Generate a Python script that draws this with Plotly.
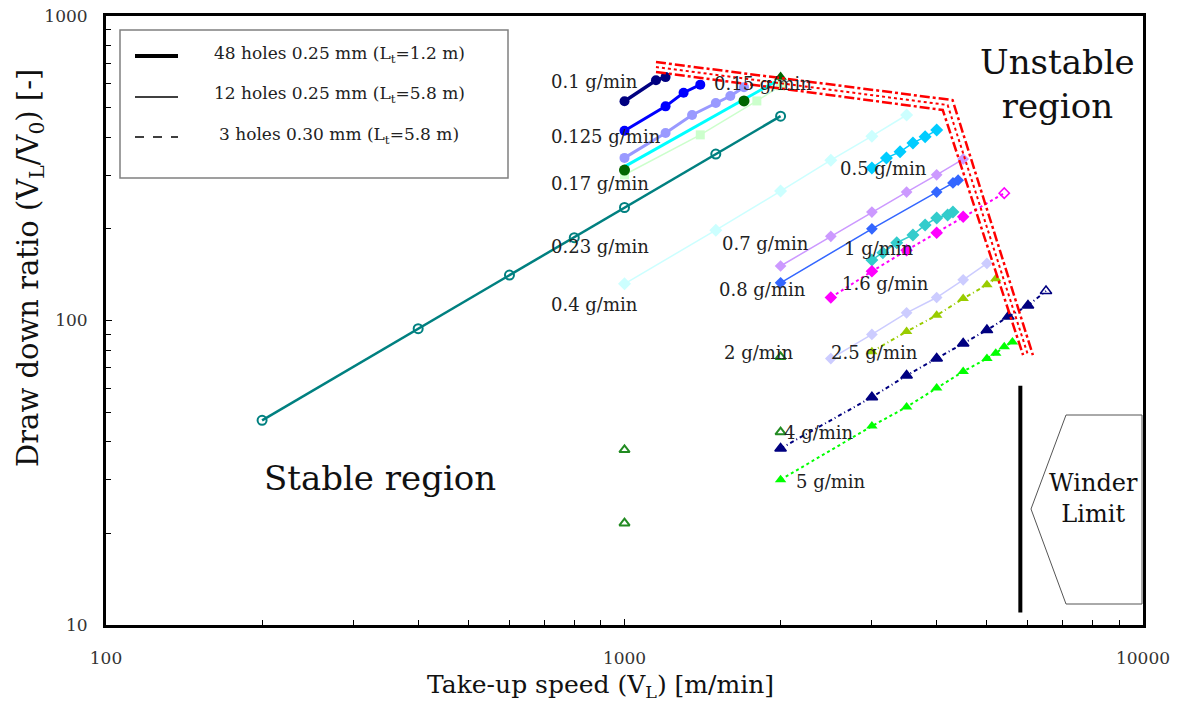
import plotly.graph_objects as go

# ---------------- data ----------------
# 48 holes 0.25 mm (Lt = 1.2 m) - thick lines
q010_x = [1000, 1150, 1200]
q010_y = [525, 615, 630]
q0125_x = [1000, 1200, 1300, 1400]
q0125_y = [420, 505, 560, 595]
q015_x = [1000, 1200, 1350, 1500, 1600, 1700]
q015_y = [342, 413, 473, 518, 546, 584]
q017_x = [1000, 1950]
q017_y = [320, 607]
q023_x = [200, 400, 600, 800, 1000, 1500, 2000]
q023_y = [47, 94, 141, 187, 235, 352, 469]
dkgreen_x = [1000, 1700]
dkgreen_y = [312, 526]
dkgreen_tri_x = [2000]
dkgreen_tri_y = [630]
palegreen_x = [1000, 1400, 1800, 2000]
palegreen_y = [301, 407, 526, 590]

# 12 holes 0.25 mm (Lt = 5.8 m) - thin lines
q04_x = [1000, 1500, 2000, 2500, 3000, 3500]
q04_y = [132, 198, 266, 336, 403, 473]
q05_x = [3000, 3200, 3400, 3600, 3800, 4000]
q05_y = [317, 342, 358, 383, 401, 422]
q07_x = [2000, 2500, 3000, 3500, 4000, 4500]
q07_y = [151, 189, 227, 264, 301, 339]
q08_x = [2000, 3000, 4000, 4300, 4400]
q08_y = [133, 200, 264, 283, 289]
q1_x = [3000, 3150, 3350, 3600, 3800, 4000, 4200, 4300]
q1_y = [158, 167, 180, 191, 206, 217, 222, 227]
q25_x = [2500, 3000, 3500, 4000, 4500, 5000]
q25_y = [75, 90, 106, 119, 136, 154]

# 3 holes 0.30 mm (Lt = 5.8 m) - dotted lines
q16_x = [2500, 3000, 3500, 4000, 4500, 5400]
q16_y = [119, 145, 170, 194, 219, 262]
q2_x = [3000, 3500, 4000, 4500, 5000, 5200]
q2_y = [79, 92, 104, 118, 131, 137]
q4_x = [2000, 3000, 3500, 4000, 4500, 5000, 5500, 6000, 6500]
q4_y = [38, 56, 66, 75, 84, 93, 103, 112, 125]
q5_x = [2000, 3000, 3500, 4000, 4500, 5000, 5200, 5400, 5600]
q5_y = [30, 45, 52, 60, 68, 75, 78, 82, 85]
open_tri_x = [2000, 2000, 1000, 1000]
open_tri_y = [76, 43, 37.6, 21.6]

# stability boundary and winder limit
boundary_x = [1150, 4200, 6000]
boundary_y = [680, 510, 77]
winder_x = [5800, 5800]
winder_y = [11, 61]

legend_names = ["48 holes 0.25 mm (L<sub>t</sub>=1.2 m)",
                "12 holes 0.25 mm (L<sub>t</sub>=5.8 m)",
                "3 holes 0.30 mm (L<sub>t</sub>=5.8 m)"]

labels = ["0.1 g/min", "0.125 g/min", "0.15 g/min", "0.17 g/min", "0.23 g/min",
          "0.4 g/min", "0.5 g/min", "0.7 g/min", "1 g/min", "0.8 g/min",
          "1.6 g/min", "2 g/min", "2.5 g/min", "4 g/min", "5 g/min"]
# label positions (pixels in the 1180x702 frame: left edge, vertical centre)
label_px = [(549, 82), (549, 136), (712, 84), (549, 183), (549, 246),
            (549, 304), (838, 168), (720, 243), (842, 248), (717, 289),
            (840, 283), (722, 352), (829, 352), (782, 433), (794, 481)]

FONT = "DejaVu Serif"
L, R, T, B = 106, 1143, 16, 625


def px(x):
    return (x - L) / (R - L)


def py(y):
    return (B - y) / (B - T)


fig = go.Figure()


def add(x, y, color, width, symbol, size, dash="solid", mode="lines+markers", mline=0, mcolor=None):
    fig.add_trace(go.Scatter(
        x=x, y=y, mode=mode, showlegend=False,
        line=dict(color=color, width=width, dash=dash),
        marker=dict(symbol=symbol, size=size, color=mcolor or color,
                    line=dict(width=mline, color=color))))


# thin (12 holes)
add(q04_x, q04_y, "#ccffff", 1.5, "diamond", 10)
add(q07_x, q07_y, "#cc99ff", 1.5, "diamond", 9)
add(q08_x, q08_y, "#3366ff", 1.5, "diamond", 9)
add(q1_x, q1_y, "#33cccc", 1.5, "diamond", 10)
add(q05_x, q05_y, "#00ccff", 1.5, "diamond", 10)
add(q25_x, q25_y, "#ccccff", 1.5, "diamond", 9)
add(palegreen_x, palegreen_y, "#ccffcc", 1.5, "square", 9)

# dotted (3 holes)
add(q16_x, q16_y, "#ff00ff", 2, ["diamond"] * 5 + ["diamond-open"], 8, dash="dot", mline=1.5)
add(q2_x, q2_y, "#99cc00", 2, "triangle-up", 10, dash="4px,3px,1px,3px")
add(q4_x, q4_y, "#000080", 2, ["triangle-up"] * 8 + ["triangle-up-open"], 10, dash="4px,3px,1px,3px", mline=1.5)
add(q5_x, q5_y, "#00ff00", 2, "triangle-up", 10, dash="3px,3px")

# thick (48 holes)
add(q023_x, q023_y, "#008080", 2.5, "circle-open", 9, mline=2)
add(q015_x, q015_y, "#9999ff", 3, "circle", 10)
add(q017_x, q017_y, "#00ffff", 3, "circle", 1, mode="lines")
add(q0125_x, q0125_y, "#0000ff", 3, "circle", 10)
add(q010_x, q010_y, "#000080", 3.5, "circle", 10)
add(dkgreen_x, dkgreen_y, "#006600", 2, "circle", 11, mode="markers")
add(dkgreen_tri_x, dkgreen_tri_y, "#006600", 2, "triangle-up", 11, mode="markers")
add(open_tri_x, open_tri_y, "#228b22", 2, "triangle-up-open", 9, mode="markers", mline=2)

# red stability boundary band
fx, fy = 1.022, 1.038
outer_x = [boundary_x[0], boundary_x[1] * fx, boundary_x[2] * fx]
outer_y = [boundary_y[0] * fy, boundary_y[1] * fy, boundary_y[2]]
inner_x = [boundary_x[0], boundary_x[1] / fx, boundary_x[2] / fx]
inner_y = [boundary_y[0] / fy, boundary_y[1] / fy, boundary_y[2]]
for bx, by, d, w in [(outer_x, outer_y, "10px,3px,3px,3px", 2.5),
                     (inner_x, inner_y, "10px,3px,3px,3px", 2.5),
                     (boundary_x, boundary_y, "3px,3px", 2)]:
    fig.add_trace(go.Scatter(x=bx, y=by, mode="lines", showlegend=False,
                             line=dict(color="#ff0000", width=w, dash=d)))

# winder limit
fig.add_trace(go.Scatter(x=winder_x, y=winder_y, mode="lines", showlegend=False,
                         line=dict(color="black", width=4)))

ann = []
for t, (lx, ly) in zip(labels, label_px):
    ann.append(dict(text=t, x=px(lx), y=py(ly), xref="paper", yref="paper",
                    xanchor="left", yanchor="middle", showarrow=False,
                    font=dict(family=FONT, size=18, color="#222222")))


def center_text(t, cx, cy, size, angle=0):
    ann.append(dict(text=t, x=px(cx), y=py(cy), xref="paper", yref="paper",
                    xanchor="center", yanchor="middle", showarrow=False, textangle=angle,
                    font=dict(family=FONT, size=size, color="#111111")))


center_text("Stable region", 380, 478, 34)
center_text("Unstable<br>region", 1057, 84, 34)
center_text("Winder<br>Limit", 1093, 498, 24)
center_text("Take-up speed (V<sub>L</sub>) [m/min]", 600, 686, 25)
center_text("Draw down ratio (V<sub>L</sub>/V<sub>0</sub>) [-]", 30, 268, 29, angle=-90)

# legend (drawn box with line samples)
shapes = [dict(type="rect", xref="paper", yref="paper",
               x0=px(120), x1=px(508), y0=py(178), y1=py(30),
               line=dict(color="#808080", width=1.5), fillcolor="white")]
for name, w, d, yy in zip(legend_names, [4, 1.5, 1.5], ["solid", "solid", "dash"], [56, 97, 137]):
    shapes.append(dict(type="line", xref="paper", yref="paper",
                       x0=px(135), x1=px(178), y0=py(yy), y1=py(yy),
                       line=dict(color="black", width=w, dash=d)))
    ann.append(dict(text=name, x=px(339), y=py(yy - 2), xref="paper", yref="paper",
                    xanchor="center", yanchor="middle", showarrow=False,
                    font=dict(family=FONT, size=17, color="#222222")))

shapes.append(dict(type="path", xref="paper", yref="paper",
                   path=f"M {px(1031)},{py(509)} L {px(1066)},{py(415)} L {px(1142)},{py(415)} "
                        f"L {px(1142)},{py(604)} L {px(1066)},{py(604)} Z",
                   line=dict(color="#555555", width=1), fillcolor="white", layer="below"))

minor_x = [200, 300, 400, 500, 600, 700, 800, 900, 2000, 3000, 4000, 5000, 6000, 7000, 8000, 9000]
minor_y = [20, 30, 40, 50, 60, 70, 80, 90, 200, 300, 400, 500, 600, 700, 800, 900]

fig.update_layout(
    width=1180, height=702,
    margin=dict(l=L, r=1180 - R, t=T, b=702 - B),
    paper_bgcolor="white", plot_bgcolor="white",
    font=dict(family=FONT, color="#222222"),
    annotations=ann, shapes=shapes, showlegend=False,
)
fig.update_xaxes(type="log", range=[2, 4], showgrid=False, zeroline=False, automargin=False,
                 showline=True, linewidth=3, linecolor="black", mirror=True,
                 tickvals=[100, 1000, 10000], ticktext=["100", "1000", "10000"],
                 ticks="inside", ticklen=6, tickcolor="black",
                 ticklabelstandoff=16, tickfont=dict(family=FONT, size=17, color="#333333"),
                 minor=dict(tickvals=minor_x, ticks="inside", ticklen=5, tickcolor="black"))
fig.update_yaxes(type="log", range=[1, 3], showgrid=False, zeroline=False, automargin=False,
                 showline=True, linewidth=3, linecolor="black", mirror=True,
                 tickvals=[10, 100, 1000], ticktext=["10", "100", "1000"],
                 ticks="inside", ticklen=6, tickcolor="black",
                 ticklabelstandoff=12, tickfont=dict(family=FONT, size=17, color="#333333"),
                 minor=dict(tickvals=minor_y, ticks="inside", ticklen=5, tickcolor="black"))

fig.write_html("out.html", config={"displayModeBar": False},
               post_script="document.body.style.margin='0';document.body.style.padding='0';")
